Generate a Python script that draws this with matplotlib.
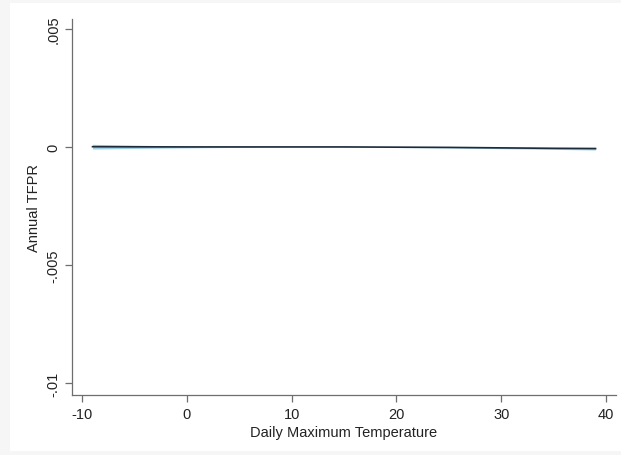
import matplotlib
matplotlib.use("Agg")
import matplotlib.pyplot as plt
from matplotlib.patches import Rectangle

plt.rcParams["font.family"] = ["Liberation Sans", "DejaVu Sans"]
plt.rcParams["axes.unicode_minus"] = False

# binned temperature response (approximate reading of the plot)
temps = [-9, -5, 0, 5, 10, 15, 20, 25, 30, 35, 39]
effect = [0.00001, 0.000005, 0.0, 0.0, 0.0, 0.0, -0.00001, -0.00002, -0.00004, -0.00006, -0.00007]
ci_half = [0.0001, 0.00007, 0.00004, 0.00002, 0.00001, 0.00001, 0.000015, 0.000025, 0.000035, 0.000045, 0.00006]

xticks = [-10, 0, 10, 20, 30, 40]
xticklabels = ["-10", "0", "10", "20", "30", "40"]
yticks = [-0.01, -0.005, 0, 0.005]
yticklabels = ["-.01", "-.005", "0", ".005"]

fig = plt.figure(figsize=(6.21, 4.56), dpi=100)
fig.patch.set_facecolor("#f6f6f6")
fig.patches.append(Rectangle((10 / 621, 4 / 456), 611 / 621, 448 / 456,
                             transform=fig.transFigure, facecolor="white",
                             edgecolor="none", zorder=-10))

ax = fig.add_axes([72 / 621, 60 / 456, 544 / 621, 376 / 456])
ax.set_zorder(5)
ax.set_facecolor("white")

lo = [e - c for e, c in zip(effect, ci_half)]
hi = [e + c for e, c in zip(effect, ci_half)]
ax.fill_between(temps, lo, hi, color="#9fd0e3", linewidth=0)
ax.plot(temps, effect, color="#1c2b3a", linewidth=1.2)

ax.set_xlim(-10.96, 40.95)
ax.set_ylim(-0.01051, 0.00542)
ax.set_xticks(xticks)
ax.set_xticklabels(xticklabels)
ax.set_yticks(yticks)
ax.set_yticklabels(yticklabels, rotation=90, va="center")

for side in ["top", "right"]:
    ax.spines[side].set_visible(False)
for side in ["left", "bottom"]:
    ax.spines[side].set_color("#6e6e6e")
    ax.spines[side].set_linewidth(0.9)
ax.tick_params(axis="both", direction="out", length=5, width=0.9,
               color="#6e6e6e", labelsize=10.5, labelcolor="#222222")

ax.set_xlabel("Daily Maximum Temperature", fontsize=10.5, color="#222222", labelpad=3)
ax.set_ylabel("Annual TFPR", fontsize=10.5, color="#222222", labelpad=4)

fig.savefig("out.png", dpi=100, facecolor=fig.get_facecolor())
